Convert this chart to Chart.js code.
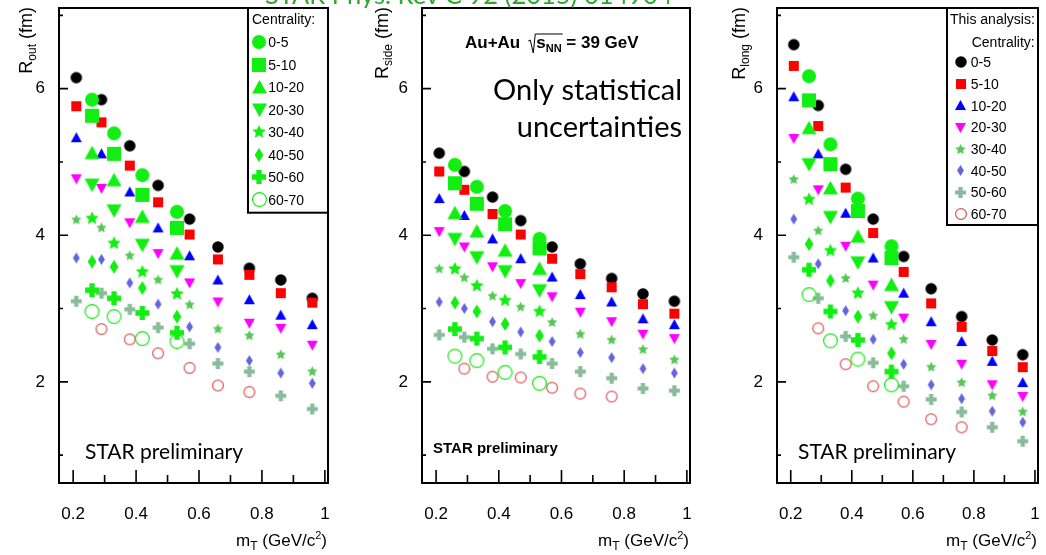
<!DOCTYPE html>
<html>
<head>
<meta charset="utf-8">
<title>HBT radii vs mT, Au+Au 39 GeV</title>
<script src="https://cdn.jsdelivr.net/npm/chart.js@4.4.1/dist/chart.umd.min.js"></script>
<style>
  html, body { margin: 0; padding: 0; background: #fff; overflow: hidden; }
  #page { position: relative; width: 1046px; height: 555px; overflow: hidden; }
  #page canvas { position: absolute; top: 0; }
  #ref { position: absolute; left: 265px; top: -19px; font: 25.5px/26px Lato, sans-serif; color: #2ca82c; white-space: nowrap; z-index: 2; }
</style>
</head>
<body>
<div id="page">
  <canvas id="cOut" width="350" height="555" style="left:0"></canvas>
  <canvas id="cSide" width="350" height="555" style="left:350px"></canvas>
  <canvas id="cLong" width="346" height="555" style="left:700px"></canvas>
  <div id="ref">STAR Phys. Rev C 92 (2015) 014904</div>
</div>
<script>
(() => {
  'use strict';

  // mT bin centres, GeV/c^2
  const mtThis = [0.21, 0.29, 0.38, 0.47, 0.57, 0.66, 0.76, 0.86, 0.96];
  const mtPub = [0.26, 0.33, 0.42, 0.53];
  const centralities = ['0-5', '5-10', '10-20', '20-30', '30-40', '40-50', '50-60', '60-70'];

  const xTicks = [0.2, 0.4, 0.6, 0.8, 1];
  const xMinorTicks = [0.3, 0.5, 0.7, 0.9];
  const yTicks = [2, 4, 6];
  const yMinorTicks = [1, 3, 5, 7];

  // radii in fm, one row per centrality class (null = no point)
  const rOutThis = [
    [6.15, 5.85, 5.22, 4.68, 4.22, 3.84, 3.55, 3.39, 3.14],
    [5.76, 5.54, 4.95, 4.45, 4.01, 3.67, 3.46, 3.21, 3.08],
    [5.33, 5.11, 4.59, 4.10, 3.72, 3.39, 3.12, 2.91, 2.78],
    [4.77, 4.64, 4.17, 3.75, 3.35, 3.09, 2.80, 2.73, 2.50],
    [4.21, 4.10, 3.72, 3.39, 3.05, 2.72, 2.63, 2.37, 2.14],
    [3.69, 3.67, 3.35, 3.06, 2.75, 2.47, 2.29, 2.12, 1.98],
    [3.10, 3.21, 2.99, 2.74, 2.52, 2.25, 2.14, 1.81, 1.63],
    [null, 2.72, 2.58, 2.39, 2.19, 1.95, 1.86, null, null]
  ];
  const rOutPub = [
    [5.85, 5.39, 4.82, 4.32],
    [5.63, 5.11, 4.55, 4.10],
    [5.12, 4.75, 4.25, 3.75],
    [4.69, 4.34, 3.87, 3.51],
    [4.23, 3.89, 3.50, 3.20],
    [3.64, 3.57, 3.28, 2.89],
    [3.25, 3.14, 2.94, 2.67],
    [2.96, 2.89, 2.59, 2.55]
  ];
  const rSideThis = [
    [5.12, 4.87, 4.52, 4.20, 3.84, 3.61, 3.41, 3.20, 3.10],
    [4.87, 4.62, 4.29, 4.01, 3.68, 3.47, 3.29, 3.06, 2.93],
    [4.50, 4.27, 3.95, 3.68, 3.43, 3.19, 3.09, 2.86, 2.78],
    [4.05, 3.84, 3.57, 3.34, 3.16, 2.95, 2.82, 2.65, 2.59],
    [3.54, 3.42, 3.17, 3.02, 2.81, 2.65, 2.57, 2.44, 2.30],
    [3.09, 3.00, 2.82, 2.68, 2.55, 2.40, 2.33, 2.18, 2.12],
    [2.64, 2.61, 2.45, 2.38, 2.25, 2.14, 2.05, 1.91, 1.88],
    [null, 2.18, 2.07, 2.06, 1.92, 1.84, 1.80, null, null]
  ];
  const rSidePub = [
    [4.96, 4.66, 4.33, 3.95],
    [4.71, 4.43, 4.15, 3.82],
    [4.30, 4.05, 3.79, 3.54],
    [3.95, 3.70, 3.51, 3.25],
    [3.54, 3.31, 3.11, 2.96],
    [3.08, 2.96, 2.79, 2.63],
    [2.72, 2.59, 2.47, 2.34],
    [2.35, 2.29, 2.13, 1.98]
  ];
  const rLongThis = [
    [6.60, 5.77, 4.90, 4.22, 3.71, 3.27, 2.89, 2.57, 2.37],
    [6.31, 5.49, 4.65, 4.03, 3.50, 3.07, 2.75, 2.42, 2.20],
    [5.89, 5.11, 4.30, 3.69, 3.21, 2.82, 2.55, 2.28, 1.99],
    [5.32, 4.62, 3.85, 3.32, 2.87, 2.51, 2.24, 1.96, 1.80],
    [4.76, 4.06, 3.41, 2.90, 2.58, 2.20, 1.99, 1.81, 1.59],
    [4.22, 3.61, 2.97, 2.58, 2.24, 1.96, 1.77, 1.60, 1.45],
    [3.70, 3.14, 2.62, 2.26, 1.94, 1.76, 1.59, 1.38, 1.19],
    [null, 2.73, 2.24, 1.94, 1.73, 1.49, 1.38, null, null]
  ];
  const rLongPub = [
    [6.17, 5.24, 4.50, 3.85],
    [5.84, 4.97, 4.33, 3.69],
    [5.46, 4.64, 3.98, 3.32],
    [4.97, 4.25, 3.63, 3.02],
    [4.49, 3.79, 3.21, 2.78],
    [3.88, 3.38, 2.89, 2.39],
    [3.53, 2.96, 2.57, 2.14],
    [3.19, 2.56, 2.31, 1.96]
  ];

  const HELV = '"Liberation Sans", Arial, sans-serif';
  const CALI = 'Lato, "Open Sans", sans-serif';

  // marker images, drawn once and handed to Chart.js as pointStyle
  function makeIcon(shape, size, color) {
    const pad = 2;
    const n = Math.ceil(size) + pad * 2;
    const c = document.createElement('canvas');
    c.width = n; c.height = n;
    const g = c.getContext('2d');
    const m = n / 2, r = size / 2;
    g.fillStyle = color; g.strokeStyle = color;
    g.beginPath();
    if (shape === 'circle') g.arc(m, m, r, 0, 2 * Math.PI);
    else if (shape === 'square') g.rect(m - r, m - r, size, size);
    else if (shape === 'triUp') { g.moveTo(m, m - r); g.lineTo(m + r, m + r * 0.8); g.lineTo(m - r, m + r * 0.8); g.closePath(); }
    else if (shape === 'triDown') { g.moveTo(m, m + r); g.lineTo(m + r, m - r * 0.8); g.lineTo(m - r, m - r * 0.8); g.closePath(); }
    else if (shape === 'star') {
      for (let k = 0; k < 10; k++) {
        const ang = -Math.PI / 2 + k * Math.PI / 5;
        const rr = k % 2 ? r * 0.48 : r;
        g.lineTo(m + rr * Math.cos(ang), m + rr * Math.sin(ang));
      }
      g.closePath();
    }
    else if (shape === 'diamond') { const w = r * 0.62; g.moveTo(m, m - r); g.lineTo(m + w, m); g.lineTo(m, m + r); g.lineTo(m - w, m); g.closePath(); }
    else if (shape === 'plus') { const t = size * 0.19; g.rect(m - t, m - r, 2 * t, size); g.rect(m - r, m - t, size, 2 * t); }
    if (shape === 'ring') { g.lineWidth = 1.2; g.arc(m, m, r - 0.6, 0, 2 * Math.PI); g.stroke(); }
    else g.fill();
    return c;
  }

  const shapes = ['circle', 'square', 'triUp', 'triDown', 'star', 'diamond', 'plus', 'ring'];
  const thisColors = ['#000000', '#ff0000', '#0000ff', '#ff00ff', '#55c855', '#6464dc', '#88bb9a', '#dd5252'];
  const thisSizes = [11.5, 10, 11, 11, 11, 11, 11, 12];
  const pubColor = '#11ee11';
  const pubSizes = [14, 14, 15, 15, 14, 14, 14, 15];

  const thisIcons = shapes.map((s, i) => makeIcon(s, thisSizes[i], thisColors[i]));
  const pubIcons = shapes.map((s, i) => makeIcon(s, pubSizes[i], pubColor));

  function drawRuns(g, runs, x, y) {
    // runs: [text, font, baseline shift]
    let cx = x;
    runs.forEach(([t, f, dy]) => {
      g.font = f;
      g.fillText(t, cx, y + dy);
      cx += g.measureText(t).width;
    });
    return cx;
  }
  function runsWidth(g, runs) {
    let w = 0;
    runs.forEach(([t, f]) => { g.font = f; w += g.measureText(t).width; });
    return w;
  }

  function drawLegend(g, a, kind) {
    const pub = kind === 'pub';
    const bx = pub ? 248 : 247;
    const bottom = pub ? 212.7 : 225;
    g.fillStyle = '#fff';
    g.fillRect(bx, a.top, a.right - bx, bottom - a.top);
    g.strokeStyle = '#000';
    g.lineWidth = 2;
    g.strokeRect(bx, a.top, a.right - bx, bottom - a.top);
    g.fillStyle = '#000';
    g.font = '14px ' + HELV;
    g.textBaseline = 'alphabetic';
    g.textAlign = 'left';
    if (pub) {
      g.fillText('Centrality:', 252, 24);
    } else {
      g.fillText('This analysis:', 250, 24);
      g.fillText('Centrality:', 271.7, 46.7);
    }
    const icons = pub ? pubIcons : thisIcons;
    const mx = pub ? 259.3 : 260.7;
    const tx = pub ? 268.3 : 270.7;
    const y0 = pub ? 42.3 : 62.3;
    const step = pub ? 22.5 : 21.7;
    g.textBaseline = 'middle';
    centralities.forEach((lab, i) => {
      const y = y0 + i * step;
      const ic = icons[i];
      g.drawImage(ic, Math.round(mx - ic.width / 2), Math.round(y - ic.height / 2));
      g.fillText(lab, tx, y + 1);
    });
  }

  function decorPlugin(p) {
    return {
      id: 'decor',
      afterDraw(chart) {
        const g = chart.ctx, a = chart.chartArea;
        const xs = chart.scales.x, ys = chart.scales.y;
        g.save();
        g.strokeStyle = '#000';
        g.fillStyle = '#000';

        // tick marks, pointing into the frame
        g.lineWidth = 1.6;
        g.beginPath();
        xTicks.forEach(v => { const px = xs.getPixelForValue(v); g.moveTo(px, a.bottom); g.lineTo(px, a.bottom - 13); });
        xMinorTicks.forEach(v => { const px = xs.getPixelForValue(v); g.moveTo(px, a.bottom); g.lineTo(px, a.bottom - 8); });
        yTicks.forEach(v => { const py = ys.getPixelForValue(v); g.moveTo(a.left, py); g.lineTo(a.left + 9, py); });
        yMinorTicks.forEach(v => { const py = ys.getPixelForValue(v); g.moveTo(a.left, py); g.lineTo(a.left + 4, py); });
        g.stroke();

        g.lineWidth = 2;
        g.strokeRect(a.left, a.top, a.right - a.left, a.bottom - a.top);

        // y title, rotated, ending at the top of the frame
        const big = '18px ' + HELV, small = '12px ' + HELV;
        const yRuns = [['R', big, 0], [p.sub, small, 4], [' (fm)', big, 0]];
        const yw = runsWidth(g, yRuns);
        g.save();
        g.translate(p.yTitleX, a.top + yw - 1);
        g.rotate(-Math.PI / 2);
        g.textAlign = 'left';
        g.textBaseline = 'alphabetic';
        drawRuns(g, yRuns, 0, 0);
        g.restore();

        // x title, right aligned
        const xRuns = [['m', '17px ' + HELV, 0], ['T', '12px ' + HELV, 4], [' (GeV/c', '17px ' + HELV, 0],
          ['2', '11px ' + HELV, -7], [')', '17px ' + HELV, 0]];
        const xw = runsWidth(g, xRuns);
        g.textAlign = 'left';
        g.textBaseline = 'alphabetic';
        drawRuns(g, xRuns, a.right - xw - 1, a.bottom + 63);

        if (p.legend) drawLegend(g, a, p.legend);
        if (p.extra) p.extra(g, a);
        g.restore();
      }
    };
  }

  function starLabel(x, y) {
    return (g) => {
      g.font = '21px ' + CALI;
      g.textAlign = 'left';
      g.textBaseline = 'alphabetic';
      g.fillText('STAR preliminary', x, y);
    };
  }

  const panels = [
    { id: 'cOut', axisLeft: 59, padRight: 22, sub: 'out', yTitleX: 32, thisVals: rOutThis, pubVals: rOutPub,
      legend: 'pub', extra: starLabel(85, 459) },
    { id: 'cSide', axisLeft: 72, padRight: 10, sub: 'side', yTitleX: 38, thisVals: rSideThis, pubVals: rSidePub,
      legend: null,
      extra: (g, a) => {
        g.textAlign = 'left';
        g.textBaseline = 'alphabetic';
        const bold = 'bold 17px ' + HELV;
        g.font = bold;
        const x0 = 115, y0 = 48;
        g.fillText('Au+Au', x0, y0);
        const rx = x0 + g.measureText('Au+Au').width + 8;
        // radical sign over s_NN
        const sEnd = drawRuns(g, [['s', bold, 0], ['NN', 'bold 11px ' + HELV, 4]], rx + 8, y0);
        g.lineWidth = 1;
        g.beginPath();
        g.moveTo(rx, y0 - 7);
        g.lineTo(rx + 2, y0 - 8);
        g.lineTo(rx + 5, y0 + 5);
        g.lineTo(rx + 7, y0 - 14);
        g.lineTo(sEnd + 1, y0 - 14);
        g.stroke();
        drawRuns(g, [[' = 39 GeV', bold, 0]], sEnd, y0);

        g.font = '29px ' + CALI;
        g.textAlign = 'right';
        g.fillText('Only statistical', 332, 100);
        g.fillText('uncertainties', 332, 137);

        g.textAlign = 'left';
        g.font = 'bold 15px ' + HELV;
        g.fillText('STAR preliminary', 83, 453);
      } },
    { id: 'cLong', axisLeft: 77, padRight: 3, sub: 'long', yTitleX: 45, thisVals: rLongThis, pubVals: rLongPub,
      legend: 'this', extra: starLabel(98, 459) }
  ];

  panels.forEach(p => {
    const datasets = [];
    centralities.forEach((c, i) => {
      datasets.push({
        label: 'This analysis ' + c,
        data: mtThis.map((x, j) => ({ x, y: p.thisVals[i][j] })).filter(pt => pt.y !== null),
        pointStyle: thisIcons[i],
        pointRadius: 6,
        pointHoverRadius: 6,
        order: -i
      });
    });
    centralities.forEach((c, i) => {
      datasets.push({
        label: 'PRC 92 014904 ' + c,
        data: mtPub.map((x, j) => ({ x, y: p.pubVals[i][j] })),
        pointStyle: pubIcons[i],
        pointRadius: 7,
        pointHoverRadius: 7,
        order: -(8 + i)
      });
    });

    new Chart(document.getElementById(p.id), {
      type: 'scatter',
      data: { datasets },
      options: {
        responsive: false,
        animation: false,
        devicePixelRatio: 1,
        events: [],
        layout: { padding: { top: 7, right: p.padRight, left: 0, bottom: 0 } },
        plugins: { legend: { display: false }, tooltip: { enabled: false } },
        scales: {
          x: {
            type: 'linear',
            min: 0.155,
            max: 1.01,
            grid: { display: false },
            border: { display: false },
            afterBuildTicks: s => { s.ticks = xTicks.map(v => ({ value: v })); },
            afterFit: s => { s.height = 72; s.paddingLeft = 0; s.paddingRight = 0; },
            ticks: {
              autoSkip: false,
              maxRotation: 0,
              padding: 13,
              color: '#000',
              font: { family: HELV, size: 17 },
              callback: v => String(v)
            }
          },
          y: {
            type: 'linear',
            min: 0.62,
            max: 7.1,
            grid: { display: false },
            border: { display: false },
            afterBuildTicks: s => { s.ticks = yTicks.map(v => ({ value: v })); },
            afterFit: s => { s.width = p.axisLeft; s.paddingTop = 0; s.paddingBottom = 0; },
            ticks: {
              padding: 6,
              color: '#000',
              font: { family: HELV, size: 17 },
              callback: v => String(v)
            }
          }
        }
      },
      plugins: [decorPlugin(p)]
    });
  });
})();
</script>
</body>
</html>
